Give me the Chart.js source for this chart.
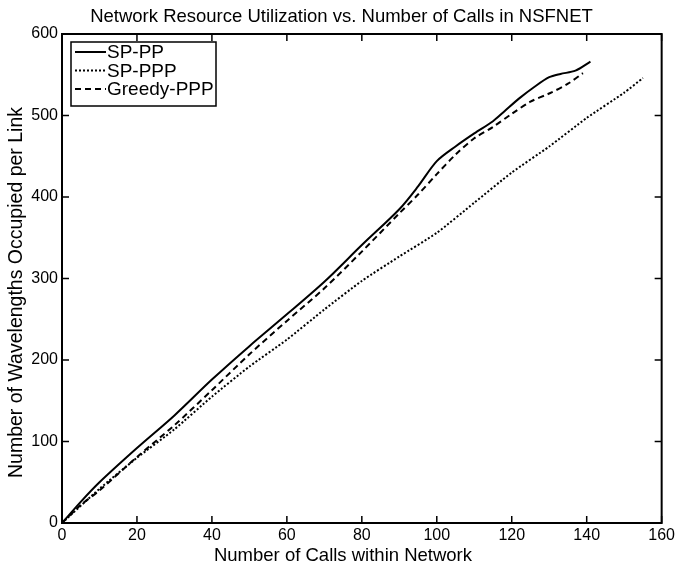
<!DOCTYPE html>
<html>
<head>
<meta charset="utf-8">
<script src="https://cdn.jsdelivr.net/npm/chart.js@4/dist/chart.umd.min.js"></script>
<style>
  html, body { margin: 0; padding: 0; background: #fff; }
  #wrap { width: 678px; height: 564px; }
</style>
</head>
<body>
<div id="wrap"><canvas id="lineChart" width="678" height="564"></canvas></div>
<script>
// values
var spppX = [0, 5, 10, 20, 30, 40, 50, 60, 70, 80, 90, 95, 100, 105, 110, 115, 118, 122, 126, 130, 133, 137, 141]
var spppY = [0, 26, 50, 92, 132, 176, 217, 256, 296, 341, 385, 413, 444, 462, 478, 493, 505, 521, 535, 547, 551, 555, 566]

var sppppX = [0, 10, 20, 30, 40, 50, 60, 70, 80, 90, 100, 110, 120, 130, 140, 150, 155]
var sppppY = [0, 42, 80, 115, 155, 192, 225, 262, 297, 327, 356, 393, 430, 462, 497, 528, 546]

var greedyX = [0, 5, 10, 20, 30, 40, 50, 60, 70, 80, 90, 95, 100, 105, 110, 115, 120, 125, 130, 135, 139]
var greedyY = [0, 22, 40, 81, 120, 163, 207, 248, 288, 333, 380, 403, 428, 452, 472, 486, 502, 517, 527, 539, 552]

var xTicks = [0, 20, 40, 60, 80, 100, 120, 140, 160]
var yTicks = [0, 100, 200, 300, 400, 500, 600]

var seriesNames = ['SP-PP', 'SP-PPP', 'Greedy-PPP']
var chartTitle = 'Network Resource Utilization vs. Number of Calls in NSFNET'
var xTitle = 'Number of Calls within Network'
var yTitle = 'Number of Wavelengths Occupied per Link'

function pts(xs, ys) {
  return xs.map(function(x, i) { return { x: x, y: ys[i] }; });
}

var FONT = '"Liberation Sans", Arial, Helvetica, sans-serif';

// box, inward ticks, titles and the legend, matlab style
var framePlugin = {
  id: 'frame',
  afterDraw: function(chart) {
    var ctx = chart.ctx;
    var a = chart.chartArea;
    var xs = chart.scales.x, ys = chart.scales.y;
    ctx.save();
    ctx.strokeStyle = '#000';
    ctx.lineWidth = 2;
    ctx.strokeRect(a.left, a.top, a.right - a.left, a.bottom - a.top);
    ctx.lineWidth = 1.5;
    ctx.beginPath();
    xTicks.forEach(function(v) {
      var px = xs.getPixelForValue(v);
      ctx.moveTo(px, a.bottom); ctx.lineTo(px, a.bottom - 7);
      ctx.moveTo(px, a.top); ctx.lineTo(px, a.top + 7);
    });
    yTicks.forEach(function(v) {
      var py = ys.getPixelForValue(v);
      ctx.moveTo(a.left, py); ctx.lineTo(a.left + 7, py);
      ctx.moveTo(a.right, py); ctx.lineTo(a.right - 7, py);
    });
    ctx.stroke();

    // titles
    ctx.fillStyle = '#000';
    ctx.textAlign = 'center';
    ctx.textBaseline = 'alphabetic';
    ctx.font = '18.5px ' + FONT;
    ctx.fillText(chartTitle, 341.5, 21.5);
    ctx.fillText(xTitle, 343, 561);
    ctx.save();
    ctx.translate(22, 292.5);
    ctx.rotate(-Math.PI / 2);
    ctx.font = '19.5px ' + FONT;
    ctx.fillText(yTitle, 0, 0);
    ctx.restore();

    // legend
    var lx = a.left + 9, ly = a.top + 8;
    ctx.fillStyle = '#fff';
    ctx.fillRect(lx, ly, 145, 64);
    ctx.lineWidth = 1.5;
    ctx.strokeRect(lx, ly, 145, 64);
    ctx.font = '19px ' + FONT;
    ctx.fillStyle = '#000';
    ctx.textAlign = 'left';
    ctx.textBaseline = 'middle';
    chart.data.datasets.forEach(function(ds, i) {
      var ry = ly + 10 + i * 18.5;
      ctx.beginPath();
      ctx.lineWidth = ds.borderWidth;
      ctx.setLineDash(ds.borderDash || []);
      ctx.moveTo(lx + 4, ry);
      ctx.lineTo(lx + 35, ry);
      ctx.stroke();
      ctx.setLineDash([]);
      ctx.fillText(ds.label, lx + 36, ry + 1);
    });
    ctx.restore();
  }
};

function createChart() {
  var lineChart = document.getElementById('lineChart');
  new Chart(lineChart, {
    type: 'line',
    data: {
      datasets: [
        {
          label: seriesNames[0],
          data: pts(spppX, spppY),
          borderColor: '#000',
          borderWidth: 2,
          pointRadius: 0,
          tension: 0.3,
          fill: false,
        },
        {
          label: seriesNames[1],
          data: pts(sppppX, sppppY),
          borderColor: '#000',
          borderWidth: 2,
          borderDash: [2, 2],
          pointRadius: 0,
          tension: 0.2,
          fill: false,
        },
        {
          label: seriesNames[2],
          data: pts(greedyX, greedyY),
          borderColor: '#000',
          borderWidth: 2,
          borderDash: [6, 4],
          pointRadius: 0,
          tension: 0.3,
          fill: false,
        },
      ],
    },
    options: {
      responsive: false,
      animation: false,
      layout: { padding: { left: 0, right: 16, top: 34, bottom: 0 } },
      scales: {
        x: {
          type: 'linear',
          min: 0,
          max: 160,
          afterFit: function(s) { s.height = 41; },
          afterBuildTicks: function(s) { s.ticks = xTicks.map(function(v) { return { value: v }; }); },
          ticks: { color: '#000', padding: 3, font: { size: 16, family: FONT } },
          grid: { display: false, drawTicks: false },
          border: { display: false },
        },
        y: {
          min: 0,
          max: 600,
          afterFit: function(s) { s.width = 62; },
          afterBuildTicks: function(s) { s.ticks = yTicks.map(function(v) { return { value: v }; }); },
          ticks: { color: '#000', padding: 4, font: { size: 16, family: FONT } },
          grid: { display: false, drawTicks: false },
          border: { display: false },
        },
      },
      plugins: {
        legend: { display: false },
        tooltip: { enabled: false },
        title: { display: false },
      },
    },
    plugins: [framePlugin],
  });
}

window.onload = function() {
  createChart();
}
</script>
</body>
</html>
